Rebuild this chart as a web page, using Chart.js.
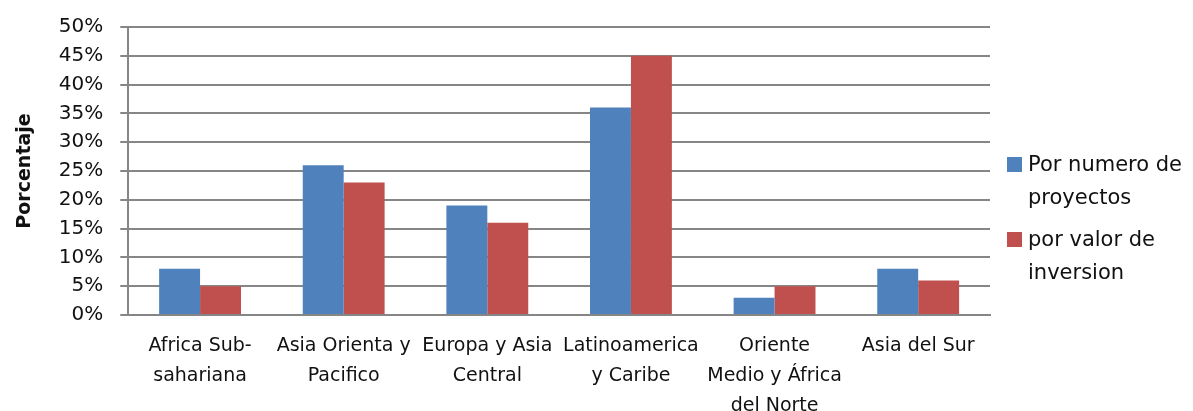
<!DOCTYPE html>
<html>
<head>
<meta charset="utf-8">
<script src="https://cdn.jsdelivr.net/npm/chart.js@4.4.1/dist/chart.umd.min.js"></script>
<style>
  html, body { margin: 0; padding: 0; background: #fff; }
  #wrap { position: relative; width: 1193px; height: 411px; overflow: hidden; }
  #legend { position: absolute; left: 1007px; top: 148px; font-family: "DejaVu Sans", sans-serif; font-size: 21px; color: #111; line-height: 33px; white-space: nowrap; }
  #legend .item { display: flex; align-items: flex-start; margin-bottom: 9px; }
  #legend .box { width: 15px; height: 15px; margin: 9px 6px 0 0; flex: none; }
</style>
</head>
<body>
<div id="wrap">
  <canvas id="grafico" width="1193" height="411"></canvas>
  <div id="legend"></div>
</div>
<script>
// Regiones (etiquetas en varias líneas)
const regiones = [
  ["Africa Sub-", "sahariana"],
  ["Asia Orienta y", "Pacifico"],
  ["Europa y Asia", "Central"],
  ["Latinoamerica", "y Caribe"],
  ["Oriente", "Medio y África", "del Norte"],
  ["Asia del Sur"]
];
const porProyectos = [8, 26, 19, 36, 3, 8];
const porInversion = [5, 23, 16, 45, 5, 6];
const etiquetasSeries = [["Por numero de", "proyectos"], ["por valor de", "inversion"]];
const colores = ["#4f81bd", "#c0504d"];

const fuente = "'DejaVu Sans', sans-serif";

const ctx = document.getElementById("grafico").getContext("2d");
const grafico = new Chart(ctx, {
  type: "bar",
  data: {
    labels: regiones,
    datasets: [
      { label: etiquetasSeries[0].join(" "), data: porProyectos, backgroundColor: colores[0] },
      { label: etiquetasSeries[1].join(" "), data: porInversion, backgroundColor: colores[1] }
    ]
  },
  options: {
    responsive: false,
    animation: false,
    layout: { padding: { left: 2, right: 203, top: 5, bottom: -26 } },
    datasets: { bar: { categoryPercentage: 0.57, barPercentage: 1.0 } },
    plugins: {
      legend: { display: false },
      tooltip: { enabled: false }
    },
    scales: {
      x: {
        grid: { display: false, drawTicks: false },
        border: { color: "#868686", width: 2 },
        ticks: {
          color: "#111",
          font: { family: fuente, size: 19, lineHeight: 1.58 },
          padding: 16,
          maxRotation: 0,
          autoSkip: false
        }
      },
      y: {
        min: 0,
        max: 50,
        ticks: {
          stepSize: 5,
          autoSkip: false,
          color: "#111",
          font: { family: fuente, size: 20, lineHeight: 1.0 },
          padding: 17,
          callback: v => v + "%"
        },
        grid: { color: "#868686", lineWidth: 2, tickLength: 8 },
        border: { color: "#868686", width: 2 },
        title: {
          display: true,
          text: "Porcentaje",
          color: "#111",
          font: { family: fuente, size: 19, weight: "bold" },
          padding: { top: 12, bottom: 5 }
        }
      }
    }
  }
});

// Leyenda en HTML para poder partir las etiquetas en dos líneas
const leyenda = document.getElementById("legend");
etiquetasSeries.forEach((lineas, i) => {
  const item = document.createElement("div");
  item.className = "item";
  const caja = document.createElement("span");
  caja.className = "box";
  caja.style.background = colores[i];
  const texto = document.createElement("span");
  texto.innerHTML = lineas.join("<br>");
  item.appendChild(caja);
  item.appendChild(texto);
  leyenda.appendChild(item);
});
</script>
</body>
</html>
